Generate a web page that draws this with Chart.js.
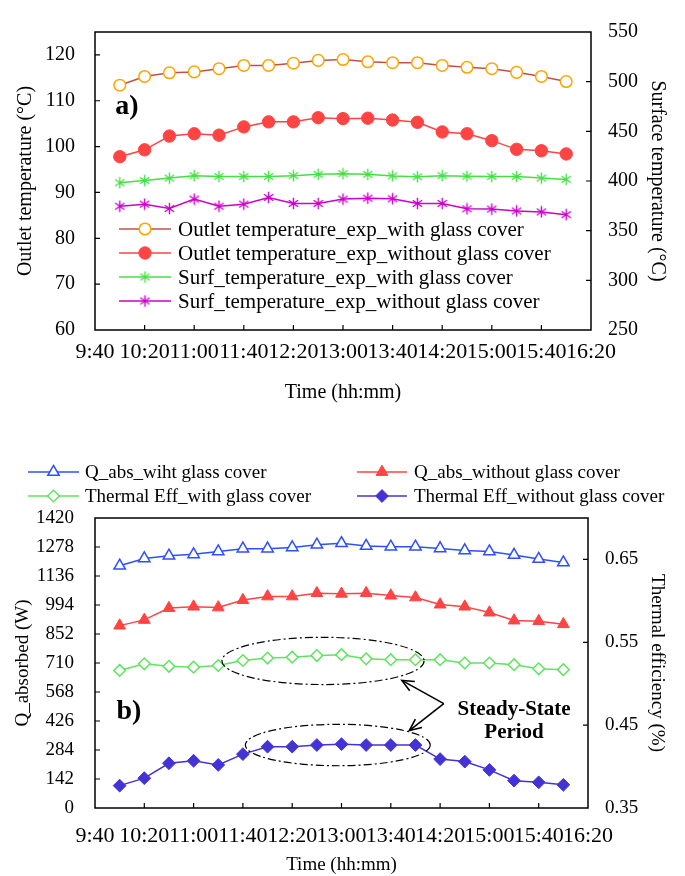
<!DOCTYPE html>
<html>
<head>
<meta charset="utf-8">
<script src="https://cdn.jsdelivr.net/npm/chart.js@4.4.1/dist/chart.umd.min.js"></script>
<style>
  html, body { margin: 0; padding: 0; background: #fff; }
  #wrapA { position: absolute; left: 0; top: 0; width: 685px; height: 405px; }
  #wrapB { position: absolute; left: 0; top: 405px; width: 685px; height: 471px; }
</style>
</head>
<body>
<div id="wrapA"><canvas id="chartA" width="685" height="405"></canvas></div>
<div id="wrapB"><canvas id="chartB" width="685" height="471"></canvas></div>
<script>
// ---- measurement times and axis tick labels ----
const times = ['10:00','10:20','10:40','11:00','11:20','11:40','12:00','12:20','12:40','13:00',
               '13:20','13:40','14:00','14:20','14:40','15:00','15:20','15:40','16:00'];
const timeTicks = ['9:40','10:20','11:00','11:40','12:20','13:00','13:40','14:20','15:00','15:40','16:20'];

// ---- panel a: temperatures ----
const outletWithGlass    = [113.4,115.3,116.1,116.3,117.0,117.7,117.7,118.2,118.8,119.0,118.5,118.3,118.3,117.7,117.3,117.0,116.2,115.3,114.2];
const outletWithoutGlass = [97.8,99.3,102.3,102.8,102.5,104.3,105.4,105.4,106.3,106.1,106.2,105.8,105.3,103.2,102.8,101.3,99.4,99.1,98.4];
const surfWithGlass      = [398.2,400.4,402.9,405.4,404.5,404.5,404.5,405.4,406.7,407.3,406.7,405.1,404.2,405.4,404.8,404.5,404.5,402.9,401.6];
const surfWithoutGlass   = [374.6,376.7,372.3,381.8,374.6,376.7,383.4,377.4,377.4,381.8,382.7,382.1,377.4,377.4,372.0,371.7,369.8,368.9,366.1];
const outletTicks  = [60,70,80,90,100,110,120];
const surfaceTicks = [250,300,350,400,450,500,550];

// ---- panel b: absorbed heat and thermal efficiency ----
const qAbsWithGlass    = [1186,1222,1235,1242,1256,1270,1270,1276,1289,1296,1283,1279,1279,1271,1261,1256,1239,1219,1202];
const qAbsWithoutGlass = [893,921,979,986,982,1018,1036,1036,1052,1049,1052,1040,1031,996,986,957,918,915,900];
const effWithGlass     = [0.516,0.524,0.521,0.520,0.522,0.528,0.531,0.532,0.534,0.535,0.530,0.529,0.529,0.529,0.525,0.525,0.523,0.518,0.517];
const effWithoutGlass  = [0.377,0.386,0.404,0.407,0.402,0.415,0.424,0.424,0.426,0.427,0.426,0.426,0.426,0.409,0.406,0.396,0.383,0.381,0.378];
const qTicks   = [0,142,284,426,568,710,852,994,1136,1278,1420];
const effTicks = [0.35,0.45,0.55,0.65];

// steady-state windows marked on panel b (time span, efficiency span)
const steadyStateRegions = [
  { from: '11:23', to: '14:07', lo: 0.499, hi: 0.556 },
  { from: '11:42', to: '14:12', lo: 0.401, hi: 0.451 }
];

const SERIF = "'Liberation Serif','Times New Roman',serif";
Chart.defaults.font.family = SERIF;
Chart.defaults.color = '#000';

function hm(t) { const [h, m] = t.split(':').map(Number); return h * 60 + m; }
function fmt(v) { const h = Math.floor(v / 60), m = Math.round(v - h * 60); return h + ':' + String(m).padStart(2, '0'); }
const pts = arr => arr.map((v, i) => ({ x: hm(times[i]), y: v }));

// six-armed asterisk marker
function asterisk(color, size) {
  const c = document.createElement('canvas');
  c.width = c.height = size;
  const g = c.getContext('2d');
  g.strokeStyle = color; g.lineWidth = 1.4;
  const r = size / 2 - 0.8, cx = size / 2, cy = size / 2;
  g.beginPath();
  for (const a of [90, 35, -35]) {
    const rad = a * Math.PI / 180;
    g.moveTo(cx - r * Math.cos(rad), cy - r * Math.sin(rad));
    g.lineTo(cx + r * Math.cos(rad), cy + r * Math.sin(rad));
  }
  g.stroke();
  return c;
}

function drawMarker(ctx, ds, x, y) {
  const style = ds.pointStyle, r = ds.pointRadius;
  if (style instanceof HTMLCanvasElement) { ctx.drawImage(style, x - style.width / 2, y - style.height / 2); return; }
  ctx.save();
  ctx.beginPath();
  ctx.fillStyle = ds.pointBackgroundColor;
  ctx.strokeStyle = ds.pointBorderColor;
  ctx.lineWidth = ds.pointBorderWidth;
  if (style === 'circle') {
    ctx.arc(x, y, r, 0, Math.PI * 2);
  } else if (style === 'triangle') {
    let a = 0;
    ctx.moveTo(x + Math.sin(a) * r, y - Math.cos(a) * r);
    a += 2 * Math.PI / 3; ctx.lineTo(x + Math.sin(a) * r, y - Math.cos(a) * r);
    a += 2 * Math.PI / 3; ctx.lineTo(x + Math.sin(a) * r, y - Math.cos(a) * r);
  } else if (style === 'rectRot') {
    ctx.moveTo(x - r, y); ctx.lineTo(x, y - r); ctx.lineTo(x + r, y); ctx.lineTo(x, y + r);
  }
  ctx.closePath(); ctx.fill(); ctx.stroke();
  ctx.restore();
}

// plot frame with inward tick marks
const framePlugin = {
  id: 'frame',
  beforeDatasetsDraw(chart) {
    const { ctx, chartArea: a, scales } = chart;
    ctx.save();
    ctx.strokeStyle = '#000';
    ctx.lineWidth = 1.5;
    ctx.strokeRect(a.left, a.top, a.right - a.left, a.bottom - a.top);
    ctx.lineWidth = 1.2;
    ctx.beginPath();
    for (const s of Object.values(scales)) {
      for (const t of s.ticks) {
        const p = s.getPixelForValue(t.value);
        if (s.isHorizontal()) {
          if (p <= a.left + 1 || p >= a.right - 1) continue;
          ctx.moveTo(p, a.bottom); ctx.lineTo(p, a.bottom - 5);
        } else {
          if (p <= a.top + 1 || p >= a.bottom - 1) continue;
          if (s.position === 'left') { ctx.moveTo(a.left, p); ctx.lineTo(a.left + 5, p); }
          else { ctx.moveTo(a.right, p); ctx.lineTo(a.right - 5, p); }
        }
      }
    }
    ctx.stroke();
    ctx.restore();
  }
};

// legend entries: line sample, marker and label for each dataset
function legendPlugin(id, layout, fontSize) {
  return {
    id,
    afterDraw(chart) {
      const ctx = chart.ctx;
      ctx.save();
      ctx.font = fontSize + 'px ' + SERIF;
      ctx.textBaseline = 'middle';
      ctx.textAlign = 'left';
      layout.forEach((L, i) => {
        const ds = chart.data.datasets[i];
        ctx.strokeStyle = ds.borderColor;
        ctx.lineWidth = ds.borderWidth;
        ctx.beginPath(); ctx.moveTo(L.x0, L.y); ctx.lineTo(L.x1, L.y); ctx.stroke();
        drawMarker(ctx, ds, (L.x0 + L.x1) / 2, L.y);
        ctx.fillStyle = '#000';
        ctx.fillText(ds.label, L.tx, L.y + 1);
      });
      ctx.restore();
    }
  };
}

function panelLabel(id, text, x, y) {
  return {
    id,
    afterDraw(chart) {
      const ctx = chart.ctx;
      ctx.save();
      ctx.font = 'bold 28px ' + SERIF;
      ctx.fillStyle = '#000';
      ctx.textAlign = 'center'; ctx.textBaseline = 'middle';
      ctx.fillText(text, x, y);
      ctx.restore();
    }
  };
}

function yScale(pos, min, max, tickList, fmtFn, title, titlePad, tickPad, width, fontSize) {
  return {
    position: pos, min, max,
    afterBuildTicks: s => { s.ticks = tickList.map(v => ({ value: v })); },
    afterFit: s => { s.width = width; },
    ticks: { callback: fmtFn, font: { size: fontSize }, color: '#000', padding: tickPad },
    grid: { display: false, drawTicks: false },
    border: { display: false },
    title: { display: true, text: title, font: { size: fontSize }, color: '#000', padding: { top: titlePad, bottom: 0 } }
  };
}

function xScale(height, tickPad, titlePad, tickSize, titleSize) {
  return {
    type: 'linear', min: hm('9:40'), max: hm('16:20'),
    afterBuildTicks: s => { s.ticks = timeTicks.map(t => ({ value: hm(t) })); },
    afterFit: s => { s.height = height; },
    ticks: { autoSkip: false, maxRotation: 0, minRotation: 0, callback: v => fmt(v), font: { size: tickSize }, color: '#000', padding: tickPad },
    grid: { display: false, drawTicks: false },
    border: { display: false },
    title: { display: true, text: 'Time (hh:mm)', font: { size: titleSize }, color: '#000', padding: { top: titlePad, bottom: 0 } }
  };
}

// ---------------- panel a ----------------
const starGreen = asterisk('#44E044', 13);
const starMagenta = asterisk('#CC00CC', 13);

new Chart(document.getElementById('chartA'), {
  type: 'line',
  data: {
    datasets: [
      { label: 'Outlet temperature_exp_with glass cover', data: pts(outletWithGlass), yAxisID: 'yL',
        borderColor: '#C0504D', borderWidth: 1.5, pointStyle: 'circle', pointRadius: 5.8,
        pointBackgroundColor: '#fff', pointBorderColor: '#FFA500', pointBorderWidth: 1.5 },
      { label: 'Outlet temperature_exp_without glass cover', data: pts(outletWithoutGlass), yAxisID: 'yL',
        borderColor: '#FF4444', borderWidth: 1.5, pointStyle: 'circle', pointRadius: 6.2,
        pointBackgroundColor: '#FF4444', pointBorderColor: '#FF4444', pointBorderWidth: 1 },
      { label: 'Surf_temperature_exp_with glass cover', data: pts(surfWithGlass), yAxisID: 'yR',
        borderColor: '#44E044', borderWidth: 1.5, pointStyle: starGreen, pointRadius: 6,
        pointBackgroundColor: '#44E044', pointBorderColor: '#44E044', pointBorderWidth: 1 },
      { label: 'Surf_temperature_exp_without glass cover', data: pts(surfWithoutGlass), yAxisID: 'yR',
        borderColor: '#CC00CC', borderWidth: 1.5, pointStyle: starMagenta, pointRadius: 6,
        pointBackgroundColor: '#CC00CC', pointBorderColor: '#CC00CC', pointBorderWidth: 1 }
    ]
  },
  options: {
    responsive: false, animation: false, devicePixelRatio: 1,
    layout: { padding: { top: 13, left: 0, right: 0, bottom: 0 } },
    plugins: { legend: { display: false }, tooltip: { enabled: false } },
    scales: {
      x: xScale(75, 9, 5, 22, 20),
      yL: yScale('left', 60, 125, outletTicks, v => String(v), 'Outlet temperature (°C)', 14, 20, 95, 20),
      yR: yScale('right', 250, 550, surfaceTicks, v => String(v), 'Surface temperature (°C)', 16, 17, 94, 20)
    }
  },
  plugins: [
    framePlugin,
    legendPlugin('legendA', [
      { x0: 119, x1: 171, y: 229, tx: 178 },
      { x0: 119, x1: 171, y: 253, tx: 178 },
      { x0: 119, x1: 171, y: 277, tx: 178 },
      { x0: 119, x1: 171, y: 301, tx: 178 }
    ], 21),
    panelLabel('tagA', 'a)', 127, 107)
  ]
});

// ---------------- panel b ----------------
const steadyStatePlugin = {
  id: 'steadyState',
  afterDatasetsDraw(chart) {
    const { ctx, scales } = chart;
    const xs = scales.x, ys = scales.yR;
    ctx.save();
    ctx.strokeStyle = '#000';
    ctx.lineWidth = 1.2;
    ctx.setLineDash([8, 3, 2, 3]);
    for (const r of steadyStateRegions) {
      const x0 = xs.getPixelForValue(hm(r.from)), x1 = xs.getPixelForValue(hm(r.to));
      const y0 = ys.getPixelForValue(r.hi), y1 = ys.getPixelForValue(r.lo);
      ctx.beginPath();
      ctx.ellipse((x0 + x1) / 2, (y0 + y1) / 2, (x1 - x0) / 2, (y1 - y0) / 2, 0, 0, Math.PI * 2);
      ctx.stroke();
    }
    ctx.setLineDash([]);
    // arrows from the caption to both windows
    const tail = [xs.getPixelForValue(hm('14:23')), ys.getPixelForValue(0.476)];
    const tips = [
      [xs.getPixelForValue(hm('13:49')), ys.getPixelForValue(0.504)],
      [xs.getPixelForValue(hm('13:55')), ys.getPixelForValue(0.4435)]
    ];
    ctx.lineWidth = 1.6;
    for (const [tx, ty] of tips) {
      ctx.beginPath(); ctx.moveTo(tail[0], tail[1]); ctx.lineTo(tx, ty); ctx.stroke();
      const ang = Math.atan2(ty - tail[1], tx - tail[0]);
      const L = 13, w = 0.42;
      ctx.beginPath();
      ctx.moveTo(tx - L * Math.cos(ang - w), ty - L * Math.sin(ang - w));
      ctx.lineTo(tx, ty);
      ctx.lineTo(tx - L * Math.cos(ang + w), ty - L * Math.sin(ang + w));
      ctx.stroke();
    }
    ctx.font = 'bold 21px ' + SERIF;
    ctx.fillStyle = '#000';
    ctx.textAlign = 'center'; ctx.textBaseline = 'middle';
    const cx = xs.getPixelForValue(hm('15:20'));
    ctx.fillText('Steady-State', cx, ys.getPixelForValue(0.469));
    ctx.fillText('Period', cx, ys.getPixelForValue(0.4405));
    ctx.restore();
  }
};

new Chart(document.getElementById('chartB'), {
  type: 'line',
  data: {
    datasets: [
      { label: 'Q_abs_wiht glass cover', data: pts(qAbsWithGlass), yAxisID: 'yL',
        borderColor: '#2F4FFF', borderWidth: 1.5, pointStyle: 'triangle', pointRadius: 6.6,
        pointBackgroundColor: '#fff', pointBorderColor: '#2F4FFF', pointBorderWidth: 1.5 },
      { label: 'Q_abs_without glass cover', data: pts(qAbsWithoutGlass), yAxisID: 'yL',
        borderColor: '#FF4444', borderWidth: 1.5, pointStyle: 'triangle', pointRadius: 6.8,
        pointBackgroundColor: '#FF4444', pointBorderColor: '#FF4444', pointBorderWidth: 1 },
      { label: 'Thermal Eff_with glass cover', data: pts(effWithGlass), yAxisID: 'yR',
        borderColor: '#5FE45F', borderWidth: 1.5, pointStyle: 'rectRot', pointRadius: 5.8,
        pointBackgroundColor: '#fff', pointBorderColor: '#5FE45F', pointBorderWidth: 1.5 },
      { label: 'Thermal Eff_without glass cover', data: pts(effWithoutGlass), yAxisID: 'yR',
        borderColor: '#4433D4', borderWidth: 1.5, pointStyle: 'rectRot', pointRadius: 6.4,
        pointBackgroundColor: '#4433D4', pointBorderColor: '#4433D4', pointBorderWidth: 1 }
    ]
  },
  options: {
    responsive: false, animation: false, devicePixelRatio: 1,
    layout: { padding: { top: 113, left: 0, right: 0, bottom: 0 } },
    plugins: { legend: { display: false }, tooltip: { enabled: false } },
    scales: {
      x: xScale(68, 15, 6, 22, 19),
      yL: yScale('left', 0, 1420, qTicks, v => String(v), 'Q_absorbed (W)', 12, 21, 95, 19),
      yR: yScale('right', 0.35, 0.70, effTicks, v => Number(v).toFixed(2), 'Thermal efficiency (%)', 17, 17, 97, 19)
    }
  },
  plugins: [
    framePlugin,
    steadyStatePlugin,
    legendPlugin('legendB', [
      { x0: 28, x1: 79, y: 67, tx: 85 },
      { x0: 357, x1: 407, y: 67, tx: 414 },
      { x0: 28, x1: 79, y: 91, tx: 85 },
      { x0: 357, x1: 407, y: 91, tx: 414 }
    ], 19),
    panelLabel('tagB', 'b)', 129, 307)
  ]
});
</script>
</body>
</html>
